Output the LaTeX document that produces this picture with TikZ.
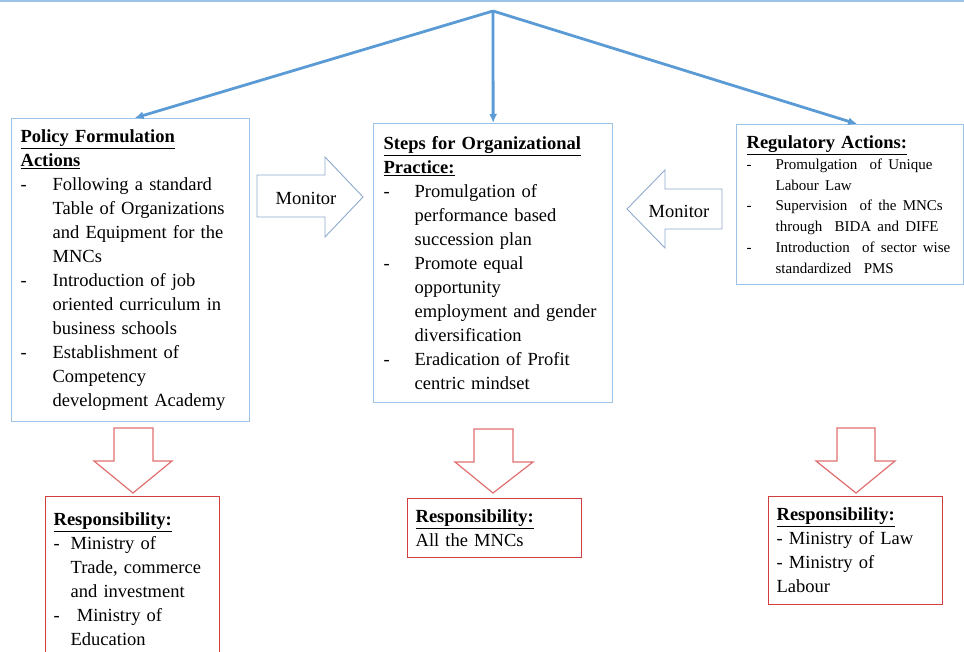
\documentclass[tikz,border=0pt]{standalone}
\usepackage{fontspec}
\setmainfont{Liberation Serif}
\usetikzlibrary{arrows.meta}
\definecolor{linkblue}{RGB}{91,155,213}
\definecolor{boxblue}{RGB}{157,195,230}
\definecolor{monblue}{RGB}{143,170,205}
\definecolor{resred}{RGB}{208,62,62}
\definecolor{arrred}{RGB}{224,112,112}
\newcommand{\dashitem}[2][32pt]{\par\noindent\hangindent=#1\hangafter=1\makebox[#1][l]{-}#2}
\newcommand{\headline}[1]{{\bfseries\underline{#1}}}

\begin{document}
\begin{tikzpicture}[x=1pt,y=-1pt]
\tikzset{
  actbox/.style={draw=boxblue, line width=1.3pt, anchor=north west, align=left,
    inner xsep=9pt, inner ysep=3pt, font=\fontsize{18.5}{24}\selectfont},
  resbox/.style={draw=resred, line width=1.3pt, anchor=north west, align=left,
    inner xsep=8pt, inner ysep=3pt, text width=158pt, font=\fontsize{18.5}{24}\selectfont},
  link/.style={linkblue, line width=2.8pt, -{Latex[length=9pt,width=8pt]}},
  blockarrow/.style={draw=arrred, line width=1.2pt, fill=white, line join=miter},
  monarrow/.style={draw=monblue, line width=0.9pt, fill=white},
  montext/.style={font=\fontsize{18.5}{22}\selectfont}
}
\useasboundingbox (0,0) rectangle (964,652);
\draw [boxblue, line width=1.5pt] (0,1) -- (964,1);

\node [actbox, text width=220pt, minimum height=303pt] (policy) at (11,118) {%
\headline{Policy Formulation}\\\headline{Actions}
\dashitem{Following a standard\newline Table of Organizations\newline and Equipment for the\newline MNCs}
\dashitem{Introduction of job\newline oriented curriculum in\newline business schools}
\dashitem{Establishment of\newline Competency\newline development Academy}\par};

\node [actbox, inner xsep=10pt, text width=219pt, minimum height=279pt] (steps) at (373,123) {%
\headline{Steps for Organizational}\\\headline{Practice:}
\dashitem[31pt]{Promulgation of\newline performance based\newline succession plan}
\dashitem[31pt]{Promote equal\newline opportunity\newline employment and gender\newline diversification}
\dashitem[31pt]{Eradication of Profit\newline centric mindset}\par};

\node [actbox, inner xsep=10pt, text width=207pt, minimum height=160pt] (reg) at (736,124) {%
\headline{Regulatory Actions:}\par
\fontsize{15}{20.8}\selectfont
\dashitem[29pt]{Promulgation \ of Unique\newline Labour Law}
\dashitem[29pt]{Supervision \ of the MNCs\newline through \ BIDA and DIFE}
\dashitem[29pt]{Introduction \ of sector wise\newline standardized \ PMS}\par};

\coordinate (apex) at (493,11);
\draw [link] (apex) -- ([xshift=4pt]policy.north);
\draw [link] (apex) -- (steps.north);
\draw [link] (apex) -- ([xshift=7pt]reg.north);

\draw [monarrow] (257,175) -- (325,175) -- (325,157) -- (363,197) -- (325,237) -- (325,217) -- (257,217) -- cycle;
\node [montext] (monA) at (306,198) {Monitor};
\draw [monarrow] (722,189) -- (665,189) -- (665,170) -- (627,209) -- (665,248) -- (665,229) -- (722,229) -- cycle;
\node [montext] (monB) at (679,211) {Monitor};

\draw [blockarrow] (114,428) -- (153,428) -- (153,461) -- (172,461) -- (133,493) -- (94,461) -- (114,461) -- cycle;
\draw [blockarrow] (474,429) -- (513,429) -- (513,462) -- (533,462) -- (493,493) -- (455,462) -- (474,462) -- cycle;
\draw [blockarrow] (837,428) -- (875,428) -- (875,461) -- (895,461) -- (856,493) -- (816,461) -- (837,461) -- cycle;

\node [resbox, minimum height=166pt] (resA) at (45,496) {%
\headline{Responsibility:}
\dashitem[17pt]{Ministry of\newline Trade, commerce\newline and investment}
\dashitem[17pt]{\ Ministry of\newline Education}\par};
\node [resbox, minimum height=59pt] (resB) at (407,498) {%
\headline{Responsibility:}\\All the MNCs};
\node [resbox, minimum height=108pt] (resC) at (768,496) {%
\headline{Responsibility:}\\- Ministry of Law\\- Ministry of\\Labour};
\end{tikzpicture}
\end{document}
